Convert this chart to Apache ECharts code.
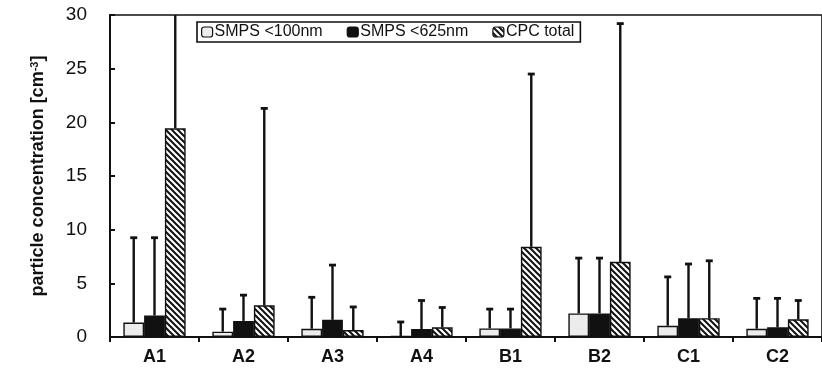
<!DOCTYPE html>
<html>
<head>
<meta charset="utf-8">
<script src="https://cdn.jsdelivr.net/npm/echarts@6/dist/echarts.min.js"></script>
<style>
  html, body { margin: 0; padding: 0; background: #fff; }
  #chart { width: 822px; height: 369px; }
</style>
</head>
<body>
<div id="chart"></div>
<script>
const categories = ['A1', 'A2', 'A3', 'A4', 'B1', 'B2', 'C1', 'C2'];
const seriesNames = ['SMPS <100nm', 'SMPS <625nm', 'CPC total'];

// mean values and upper error bar ends
const smps100 = [1.35, 0.5, 0.77, 0.1, 0.8, 2.2, 1.05, 0.77];
const smps100Err = [9.25, 2.6, 3.7, 1.4, 2.6, 7.35, 5.6, 3.6];
const smps625 = [2.0, 1.5, 1.6, 0.75, 0.8, 2.2, 1.75, 0.9];
const smps625Err = [9.25, 3.9, 6.7, 3.4, 2.6, 7.35, 6.8, 3.6];
const cpc = [19.45, 2.95, 0.65, 0.9, 8.4, 7.0, 1.75, 1.65];
const cpcErr = [31, 21.3, 2.8, 2.75, 24.5, 29.2, 7.1, 3.4];

const yTicks = [0, 5, 10, 15, 20, 25, 30];

const INK = '#111';
const BAR_SHARE = 0.7; // 1 - barCategoryGap

// diagonal hatch for CPC total
const hatch = document.createElement('canvas');
hatch.width = 6;
hatch.height = 6;
const hc = hatch.getContext('2d');
hc.fillStyle = '#fff';
hc.fillRect(0, 0, 6, 6);
hc.strokeStyle = INK;
hc.lineWidth = 2;
hc.beginPath();
hc.moveTo(-1, -1); hc.lineTo(7, 7);
hc.moveTo(-4, 2); hc.lineTo(4, 10);
hc.moveTo(2, -4); hc.lineTo(10, 4);
hc.stroke();

const fills = ['#ececec', INK, { image: hatch, repeat: 'repeat' }];
const means = [smps100, smps625, cpc];
const errs = [smps100Err, smps625Err, cpcErr];

function errorSeries(k) {
  return {
    type: 'custom',
    name: seriesNames[k] + ' err',
    clip: true,
    z: 3,
    renderItem: (params, api) => {
      const i = api.value(0);
      const base = api.coord([i, api.value(1)]);
      const top = api.coord([i, api.value(2)]);
      const band = api.size([1, 0])[0];
      const barW = band * BAR_SHARE / 3;
      const cx = base[0] + (k - 1) * barW;
      const style = { stroke: INK, lineWidth: 2.4 };
      return {
        type: 'group',
        children: [
          { type: 'line', shape: { x1: cx, y1: base[1], x2: cx, y2: top[1] }, style },
          { type: 'line', shape: { x1: cx - 3.5, y1: top[1], x2: cx + 3.5, y2: top[1] }, style: { stroke: INK, lineWidth: 2.8 } }
        ]
      };
    },
    data: categories.map((c, i) => [i, means[k][i], errs[k][i]])
  };
}

const barSeries = seriesNames.map((name, k) => ({
  type: 'bar',
  name,
  data: means[k],
  barGap: '0%',
  barCategoryGap: '30%',
  itemStyle: { color: fills[k], borderColor: INK, borderWidth: 1.4 },
  emphasis: { disabled: true }
}));

const chart = echarts.init(document.getElementById('chart'));
chart.setOption({
  animation: false,
  backgroundColor: '#fff',
  textStyle: { fontFamily: 'Liberation Sans, Arial, sans-serif', color: INK },
  grid: {
    left: 110, right: -8, top: 15, bottom: 32,
    show: true, borderColor: INK, borderWidth: 1.6, backgroundColor: 'transparent'
  },
  legend: {
    data: seriesNames,
    left: 197, top: 22,
    padding: [2, 6, 2, 4],
    itemWidth: 11, itemHeight: 10, itemGap: 24,
    borderColor: INK, borderWidth: 1.6,
    textStyle: { fontSize: 16, color: INK, padding: [0, 0, 0, -3] },
    itemStyle: { borderColor: INK, borderWidth: 1.2 }
  },
  xAxis: {
    type: 'category',
    data: categories,
    axisLine: { lineStyle: { color: INK, width: 2 } },
    axisTick: { show: true, length: 5, lineStyle: { color: INK, width: 2 } },
    axisLabel: { fontSize: 18, fontWeight: 'bold', color: INK, margin: 11 }
  },
  yAxis: {
    type: 'value',
    min: yTicks[0],
    max: yTicks[yTicks.length - 1],
    interval: 5,
    name: 'particle concentration [cm{sup|-3}]',
    nameLocation: 'middle',
    nameRotate: 90,
    nameGap: 62,
    nameTextStyle: {
      fontSize: 18, fontWeight: 'bold', color: INK,
      rich: { sup: { fontSize: 11, fontWeight: 'bold', verticalAlign: 'top', padding: [0, 0, 8, 0] } }
    },
    splitLine: { show: false },
    axisLine: { show: true, lineStyle: { color: INK, width: 2 } },
    axisTick: { show: true, inside: true, length: 5, lineStyle: { color: INK, width: 2 } },
    axisLabel: { fontSize: 19, color: INK, margin: 23 }
  },
  series: [...barSeries, errorSeries(0), errorSeries(1), errorSeries(2)]
});
</script>
</body>
</html>
